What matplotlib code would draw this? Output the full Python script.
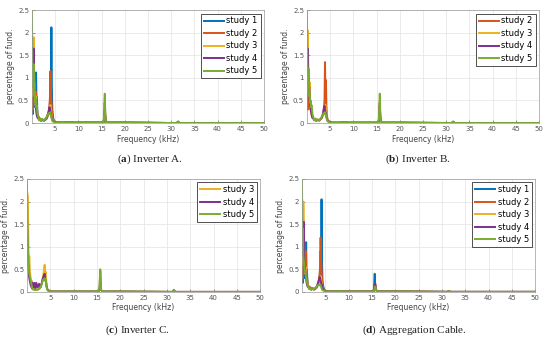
import matplotlib
matplotlib.use("Agg")
from matplotlib import pyplot as plt

''' data: harmonic spectra, percentage of fundamental vs frequency (kHz) '''
freq_khz = [0.0, 0.1, 0.2, 0.3, 0.4, 0.5, 0.6, 0.7, 0.8, 0.9,
            1.0, 1.1, 1.2, 1.4, 1.6, 1.8, 2.0, 2.3, 2.6, 2.9,
            3.2, 3.4, 3.6, 3.8, 3.9, 4.0, 4.1, 4.2, 4.3, 4.4,
            4.6, 4.8, 5.0, 5.5, 7.0, 8.0, 9.0, 12.0, 15.4, 15.6,
            15.7, 15.8, 15.9, 16.2, 20.0, 31.2, 31.5, 31.8, 40.0, 50.0]

# (a) Inverter A
a_s1 = [0.30, 0.55, 0.20, 0.60, 0.35, 0.80, 0.40, 0.90, 0.50, 1.12,
        0.35, 0.50, 0.20, 0.15, 0.08, 0.10, 0.06, 0.08, 0.05, 0.07,
        0.10, 0.15, 0.20, 0.30, 0.50, 0.90, 0.60, 2.12, 0.80, 0.30,
        0.10, 0.05, 0.02, 0.01, 0.01, 0.02, 0.01, 0.01, 0.01, 0.10,
        0.25, 0.15, 0.05, 0.01, 0.01, 0.00, 0.03, 0.00, 0.00, 0.00]
a_s2 = [0.40, 0.70, 0.30, 0.85, 0.40, 0.60, 0.90, 0.45, 0.70, 0.50,
        0.60, 0.30, 0.20, 0.12, 0.08, 0.10, 0.06, 0.08, 0.05, 0.08,
        0.12, 0.18, 0.25, 0.40, 0.60, 1.15, 0.70, 0.50, 0.30, 0.15,
        0.08, 0.04, 0.02, 0.01, 0.01, 0.02, 0.01, 0.01, 0.01, 0.08,
        0.30, 0.12, 0.04, 0.01, 0.01, 0.00, 0.03, 0.00, 0.00, 0.00]
a_s3 = [0.60, 1.20, 0.80, 1.60, 1.90, 1.00, 0.70, 0.40, 0.60, 0.30,
        0.25, 0.20, 0.15, 0.10, 0.06, 0.08, 0.05, 0.07, 0.05, 0.08,
        0.12, 0.15, 0.20, 0.30, 0.35, 0.40, 0.30, 0.20, 0.15, 0.08,
        0.05, 0.03, 0.02, 0.01, 0.01, 0.02, 0.01, 0.01, 0.01, 0.10,
        0.55, 0.20, 0.05, 0.01, 0.01, 0.00, 0.03, 0.00, 0.00, 0.00]
a_s4 = [0.80, 1.30, 1.00, 1.50, 1.65, 0.90, 0.60, 0.50, 0.40, 0.30,
        0.20, 0.15, 0.12, 0.10, 0.07, 0.08, 0.05, 0.07, 0.06, 0.08,
        0.12, 0.18, 0.25, 0.35, 0.30, 0.25, 0.20, 0.15, 0.10, 0.06,
        0.04, 0.03, 0.02, 0.01, 0.01, 0.02, 0.01, 0.01, 0.01, 0.10,
        0.45, 0.15, 0.05, 0.01, 0.01, 0.00, 0.03, 0.00, 0.00, 0.00]
a_s5 = [2.50, 1.40, 1.05, 0.80, 1.30, 0.60, 0.70, 0.45, 0.55, 0.35,
        0.40, 0.30, 0.20, 0.12, 0.06, 0.09, 0.05, 0.08, 0.06, 0.09,
        0.14, 0.18, 0.22, 0.20, 0.24, 0.20, 0.18, 0.12, 0.08, 0.05,
        0.03, 0.02, 0.01, 0.01, 0.01, 0.02, 0.01, 0.01, 0.01, 0.20,
        0.65, 0.22, 0.05, 0.01, 0.01, 0.00, 0.03, 0.00, 0.00, 0.00]

# (b) Inverter B
b_s2 = [0.40, 0.60, 0.30, 0.70, 0.40, 0.90, 0.50, 0.40, 0.30, 0.35,
        0.20, 0.15, 0.12, 0.10, 0.07, 0.10, 0.06, 0.08, 0.05, 0.08,
        0.12, 0.18, 0.25, 0.50, 1.35, 0.60, 0.95, 0.40, 0.20, 0.10,
        0.06, 0.03, 0.02, 0.01, 0.01, 0.02, 0.01, 0.01, 0.01, 0.10,
        0.40, 0.15, 0.04, 0.01, 0.01, 0.00, 0.03, 0.00, 0.00, 0.00]
b_s3 = [0.70, 1.50, 2.05, 1.20, 0.80, 0.60, 0.90, 0.40, 0.50, 0.30,
        0.20, 0.15, 0.12, 0.10, 0.06, 0.08, 0.05, 0.07, 0.05, 0.08,
        0.12, 0.15, 0.20, 0.30, 0.35, 0.40, 0.30, 0.20, 0.12, 0.08,
        0.05, 0.03, 0.02, 0.01, 0.01, 0.02, 0.01, 0.01, 0.01, 0.10,
        0.50, 0.18, 0.05, 0.01, 0.01, 0.00, 0.03, 0.00, 0.00, 0.00]
b_s4 = [0.90, 1.30, 1.65, 1.00, 0.70, 0.80, 0.50, 0.40, 0.30, 0.25,
        0.20, 0.15, 0.12, 0.10, 0.07, 0.08, 0.05, 0.07, 0.06, 0.08,
        0.12, 0.18, 0.30, 0.38, 0.30, 0.25, 0.20, 0.15, 0.10, 0.06,
        0.04, 0.03, 0.02, 0.01, 0.01, 0.02, 0.01, 0.01, 0.01, 0.10,
        0.45, 0.15, 0.05, 0.01, 0.01, 0.00, 0.03, 0.00, 0.00, 0.00]
b_s5 = [2.50, 1.30, 1.00, 0.80, 1.20, 0.60, 0.65, 0.45, 0.50, 0.35,
        0.40, 0.30, 0.20, 0.12, 0.06, 0.09, 0.05, 0.08, 0.06, 0.09,
        0.14, 0.18, 0.22, 0.20, 0.24, 0.20, 0.18, 0.12, 0.08, 0.05,
        0.03, 0.02, 0.01, 0.01, 0.01, 0.02, 0.01, 0.01, 0.01, 0.22,
        0.65, 0.22, 0.05, 0.01, 0.01, 0.00, 0.03, 0.00, 0.00, 0.00]

# (c) Inverter C
c_s3 = [2.18, 2.18, 2.10, 1.20, 0.60, 0.80, 0.50, 0.40, 0.30, 0.20,
        0.25, 0.15, 0.10, 0.08, 0.06, 0.05, 0.06, 0.05, 0.08, 0.12,
        0.20, 0.30, 0.45, 0.60, 0.40, 0.45, 0.30, 0.20, 0.10, 0.06,
        0.04, 0.02, 0.02, 0.01, 0.01, 0.01, 0.01, 0.01, 0.01, 0.10,
        0.45, 0.15, 0.04, 0.01, 0.01, 0.00, 0.04, 0.00, 0.00, 0.00]
c_s4 = [1.70, 1.10, 0.90, 0.60, 0.40, 0.30, 0.25, 0.20, 0.15, 0.12,
        0.10, 0.08, 0.20, 0.10, 0.20, 0.08, 0.20, 0.10, 0.18, 0.10,
        0.20, 0.30, 0.35, 0.40, 0.30, 0.25, 0.20, 0.12, 0.08, 0.05,
        0.03, 0.02, 0.01, 0.01, 0.01, 0.01, 0.01, 0.01, 0.01, 0.10,
        0.48, 0.15, 0.04, 0.01, 0.01, 0.00, 0.04, 0.00, 0.00, 0.00]
c_s5 = [2.50, 1.40, 1.00, 0.70, 0.50, 0.40, 0.35, 0.30, 0.25, 0.20,
        0.15, 0.10, 0.06, 0.05, 0.04, 0.05, 0.04, 0.05, 0.06, 0.10,
        0.18, 0.25, 0.28, 0.30, 0.25, 0.28, 0.20, 0.12, 0.06, 0.04,
        0.02, 0.01, 0.01, 0.01, 0.01, 0.01, 0.01, 0.01, 0.01, 0.15,
        0.50, 0.18, 0.04, 0.01, 0.01, 0.00, 0.04, 0.00, 0.00, 0.00]

# (d) Aggregation Cable
d_s1 = [0.30, 0.50, 0.20, 0.60, 0.30, 0.70, 0.40, 0.80, 0.50, 1.10,
        0.30, 0.40, 0.20, 0.12, 0.08, 0.10, 0.06, 0.08, 0.05, 0.07,
        0.10, 0.15, 0.20, 0.30, 0.50, 0.90, 0.60, 2.05, 0.70, 0.25,
        0.10, 0.05, 0.02, 0.01, 0.01, 0.02, 0.01, 0.01, 0.01, 0.40,
        0.15, 0.10, 0.04, 0.01, 0.01, 0.00, 0.02, 0.00, 0.00, 0.00]
d_s2 = [0.40, 0.60, 0.30, 0.80, 0.40, 0.55, 0.85, 0.40, 0.90, 0.45,
        0.50, 0.30, 0.20, 0.12, 0.08, 0.10, 0.06, 0.08, 0.05, 0.08,
        0.12, 0.18, 0.25, 0.40, 0.60, 1.20, 0.70, 0.50, 0.30, 0.15,
        0.08, 0.04, 0.02, 0.01, 0.01, 0.02, 0.01, 0.01, 0.01, 0.08,
        0.18, 0.10, 0.04, 0.01, 0.01, 0.00, 0.02, 0.00, 0.00, 0.00]
d_s3 = [0.60, 1.20, 0.80, 2.00, 1.40, 0.90, 0.60, 0.40, 0.55, 0.30,
        0.25, 0.20, 0.15, 0.10, 0.06, 0.08, 0.05, 0.07, 0.05, 0.08,
        0.12, 0.15, 0.20, 0.28, 0.32, 0.35, 0.30, 0.20, 0.15, 0.08,
        0.05, 0.03, 0.02, 0.01, 0.01, 0.02, 0.01, 0.01, 0.01, 0.08,
        0.15, 0.10, 0.04, 0.01, 0.01, 0.00, 0.02, 0.00, 0.00, 0.00]
d_s4 = [0.80, 1.30, 1.00, 1.40, 1.55, 0.90, 0.60, 0.50, 0.40, 0.30,
        0.20, 0.15, 0.12, 0.10, 0.07, 0.08, 0.05, 0.07, 0.06, 0.08,
        0.12, 0.18, 0.25, 0.33, 0.28, 0.25, 0.20, 0.15, 0.15, 0.10,
        0.04, 0.03, 0.02, 0.01, 0.01, 0.02, 0.01, 0.01, 0.01, 0.08,
        0.18, 0.10, 0.04, 0.01, 0.01, 0.00, 0.02, 0.00, 0.00, 0.00]
d_s5 = [2.50, 1.30, 1.40, 0.80, 0.70, 0.60, 0.50, 0.45, 0.40, 0.30,
        0.25, 0.20, 0.15, 0.10, 0.06, 0.08, 0.05, 0.07, 0.06, 0.09,
        0.12, 0.15, 0.16, 0.15, 0.14, 0.15, 0.12, 0.08, 0.05, 0.04,
        0.03, 0.02, 0.01, 0.01, 0.01, 0.02, 0.01, 0.01, 0.01, 0.06,
        0.12, 0.08, 0.03, 0.01, 0.01, 0.00, 0.02, 0.00, 0.00, 0.00]

''' MATLAB default colour order '''
colors = {1: "#0072BD", 2: "#D95319", 3: "#EDB120", 4: "#7E2F8E", 5: "#77AC30"}

panels = [
    ("a", "Inverter A.", {1: a_s1, 2: a_s2, 3: a_s3, 4: a_s4, 5: a_s5}),
    ("b", "Inverter B.", {2: b_s2, 3: b_s3, 4: b_s4, 5: b_s5}),
    ("c", "Inverter C.", {3: c_s3, 4: c_s4, 5: c_s5}),
    ("d", "Aggregation Cable.", {1: d_s1, 2: d_s2, 3: d_s3, 4: d_s4, 5: d_s5}),
]

# axes rectangles in figure fractions (left, bottom, width, height)
rects = [(0.058, 0.637, 0.422, 0.333),
         (0.558, 0.637, 0.422, 0.333),
         (0.049, 0.139, 0.424, 0.333),
         (0.549, 0.139, 0.424, 0.333)]
# caption positions (x, y)
captions = [(0.272, 0.531), (0.760, 0.531), (0.250, 0.027), (0.753, 0.027)]

plt.rcParams["mathtext.fontset"] = "custom"
plt.rcParams["mathtext.rm"] = "Liberation Serif"
plt.rcParams["mathtext.bf"] = "Liberation Serif:bold"

fig = plt.figure(figsize=(5.5, 3.39), dpi=100)

for (letter, name, series), rect, cap in zip(panels, rects, captions):
    ax = fig.add_axes(rect)
    for k, vals in series.items():
        ax.plot(freq_khz, vals, color=colors[k], lw=1.4, label="study %d" % k)
    ax.set_xlim(0, 50)
    ax.set_ylim(0, 2.5)
    ax.set_xticks(range(5, 55, 5))
    ax.set_yticks([0, 0.5, 1, 1.5, 2, 2.5])
    ax.set_yticklabels(["0", "0.5", "1", "1.5", "2", "2.5"])
    ax.grid(True, color="#e3e3e3", lw=0.5)
    ax.set_axisbelow(True)
    ax.tick_params(direction="in", length=2, width=0.4, labelsize=5,
                   colors="#555555", pad=2)
    for sp in ax.spines.values():
        sp.set_color("#9a9a9a")
        sp.set_linewidth(0.5)
    ax.set_xlabel("Frequency (kHz)", fontsize=5.5, color="#444444", labelpad=2)
    ax.set_ylabel("percentage of fund.", fontsize=5.5, color="#444444", labelpad=2)
    leg = ax.legend(loc="upper right", fontsize=6, frameon=True, fancybox=False,
                    framealpha=1, edgecolor="#333333", handlelength=2.4,
                    borderpad=0.35, labelspacing=0.42, handletextpad=0.3,
                    borderaxespad=0.4)
    leg.get_frame().set_linewidth(0.6)
    fig.text(cap[0], cap[1], r"($\mathbf{%s}$) %s" % (letter, name),
             ha="center", va="center", fontsize=8, family="Liberation Serif",
             color="#222222")

fig.savefig("out.png", dpi=100)
